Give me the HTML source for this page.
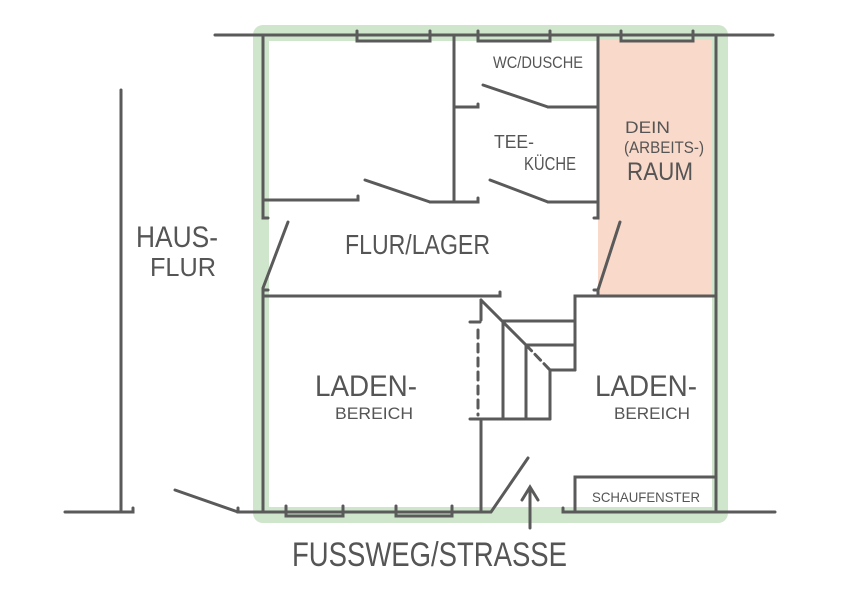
<!DOCTYPE html>
<html><head><meta charset="utf-8"><style>
html,body{margin:0;padding:0;background:#fff;}
svg{display:block}
text{font-family:"Liberation Sans",sans-serif;fill:#555;font-weight:normal}
</style></head><body>
<svg width="849" height="600" viewBox="0 0 849 600" xmlns="http://www.w3.org/2000/svg">
<rect width="849" height="600" fill="#fff"/>
<rect x="253" y="25" width="475" height="498" rx="10" fill="#cfe5cc"/>
<rect x="269" y="41" width="443" height="466" fill="#fff"/>
<rect x="598" y="40" width="114" height="256" fill="#f9d9c9"/>
<g stroke="#5a5a5a" stroke-width="3" fill="none" stroke-linecap="round">
<!-- top -->
<line x1="215" y1="35" x2="773" y2="35"/>
<path d="M357 31 V41 H430 V31 M478 31 V41 H550 V31 M621 31 V41 H693 V31"/>
<!-- left wall -->
<path d="M263 35 V218 H268"/>
<line x1="263" y1="288" x2="288" y2="222"/>
<path d="M268 290 H263 V512"/>
<!-- right -->
<line x1="716" y1="35" x2="716" y2="512"/>
<!-- bottom -->
<path d="M65 512 H133 V508"/>
<line x1="175" y1="490" x2="238" y2="512"/>
<path d="M238 508 V512 H490"/>
<path d="M286 506 V516 H343 V506 M396 506 V516 H452 V506"/>
<line x1="491" y1="512" x2="528" y2="458"/>
<path d="M563 508 V512 H775"/>
<line x1="121" y1="90" x2="121" y2="512"/>
<!-- interior -->
<path d="M263 200 H358 V196"/>
<line x1="365" y1="180" x2="430" y2="202"/>
<path d="M430 202 H478 V198"/>
<line x1="454" y1="35" x2="454" y2="202"/>
<path d="M454 107 H478 V104"/>
<line x1="483" y1="85" x2="548" y2="107"/>
<line x1="548" y1="107" x2="598" y2="107"/>
<line x1="490" y1="180" x2="548" y2="202"/>
<line x1="548" y1="202" x2="598" y2="202"/>
<path d="M598 35 V218 H594"/>
<line x1="620" y1="222" x2="598" y2="290"/>
<path d="M594 290 H598 V296"/>
<path d="M263 296 H500 V292"/>
<path d="M575 300 V296 H716"/>
<!-- stairs -->
<path d="M575 296 V370"/>
<path d="M503 321 H575 M526 345 H575 M550 370 H575"/>
<path d="M503 321 V419 M526 345 V419 M550 370 V419"/>
<path d="M470 419 H550"/>
<line x1="481" y1="300" x2="526" y2="345"/>
<line x1="526" y1="345" x2="550" y2="370" stroke-dasharray="8 5"/>
<path d="M470 322 H480"/>
<line x1="478" y1="330" x2="478" y2="415" stroke-dasharray="8 6"/>
<path d="M481 300 V320"/>
<line x1="481" y1="419" x2="481" y2="512"/>
<!-- schaufenster -->
<path d="M575 512 V477 H716"/>
<!-- arrow -->
<path d="M530 528 V488 M522 500 L530 487 L538 500"/>
</g>
<g>
<text x="136" y="247" font-size="30" textLength="82" lengthAdjust="spacingAndGlyphs">HAUS-</text>
<text x="150" y="276" font-size="26" textLength="66" lengthAdjust="spacingAndGlyphs">FLUR</text>
<text x="345" y="254" font-size="28" textLength="145" lengthAdjust="spacingAndGlyphs">FLUR/LAGER</text>
<text x="493" y="68" font-size="17" textLength="90" lengthAdjust="spacingAndGlyphs">WC/DUSCHE</text>
<text x="494" y="148" font-size="18" textLength="40" lengthAdjust="spacingAndGlyphs">TEE-</text>
<text x="524" y="170" font-size="18" textLength="52" lengthAdjust="spacingAndGlyphs">KÜCHE</text>
<text x="625" y="133" font-size="17" textLength="45" lengthAdjust="spacingAndGlyphs">DEIN</text>
<text x="624" y="153" font-size="17" textLength="80" lengthAdjust="spacingAndGlyphs">(ARBEITS-)</text>
<text x="627" y="180" font-size="25" textLength="66" lengthAdjust="spacingAndGlyphs">RAUM</text>
<text x="315" y="396" font-size="30" textLength="102" lengthAdjust="spacingAndGlyphs">LADEN-</text>
<text x="335" y="419" font-size="17" textLength="78" lengthAdjust="spacingAndGlyphs">BEREICH</text>
<text x="595" y="396" font-size="30" textLength="102" lengthAdjust="spacingAndGlyphs">LADEN-</text>
<text x="614" y="419" font-size="17" textLength="76" lengthAdjust="spacingAndGlyphs">BEREICH</text>
<text x="592" y="502" font-size="14" textLength="108" lengthAdjust="spacingAndGlyphs">SCHAUFENSTER</text>
<text x="292" y="566" font-size="34" textLength="275" lengthAdjust="spacingAndGlyphs">FUSSWEG/STRASSE</text>
</g>
</svg>
</body></html>
